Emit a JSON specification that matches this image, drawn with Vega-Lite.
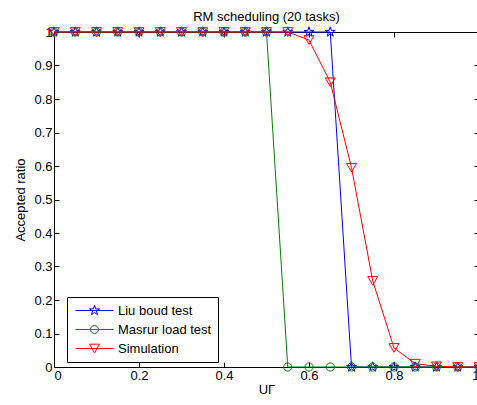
{
  "$schema": "https://vega.github.io/schema/vega-lite/v6.json",
  "width": 425,
  "height": 335,
  "autosize": "none",
  "padding": {"left": 54, "top": 32, "right": 0, "bottom": 38},
  "background": "white",
  "title": {"text": "RM scheduling (20 tasks)", "fontSize": 13, "fontWeight": "normal", "font": "Liberation Sans", "color": "black", "anchor": "middle", "offset": 1},
  "config": {
    "view": {"stroke": "black", "strokeWidth": 1},
    "axis": {"grid": false, "domain": false, "tickColor": "black", "tickSize": -5, "labelFont": "Liberation Sans", "labelFontSize": 13, "labelColor": "black", "titleFont": "Liberation Sans", "titleFontSize": 13, "titleFontWeight": "normal", "titleColor": "black"}
  },
  "data": {"values": [
    {"u": 0, "s": "Liu boud test", "r": 1},
    {"u": 0.05, "s": "Liu boud test", "r": 1},
    {"u": 0.1, "s": "Liu boud test", "r": 1},
    {"u": 0.15, "s": "Liu boud test", "r": 1},
    {"u": 0.2, "s": "Liu boud test", "r": 1},
    {"u": 0.25, "s": "Liu boud test", "r": 1},
    {"u": 0.3, "s": "Liu boud test", "r": 1},
    {"u": 0.35, "s": "Liu boud test", "r": 1},
    {"u": 0.4, "s": "Liu boud test", "r": 1},
    {"u": 0.45, "s": "Liu boud test", "r": 1},
    {"u": 0.5, "s": "Liu boud test", "r": 1},
    {"u": 0.55, "s": "Liu boud test", "r": 1},
    {"u": 0.6, "s": "Liu boud test", "r": 1},
    {"u": 0.65, "s": "Liu boud test", "r": 1},
    {"u": 0.7, "s": "Liu boud test", "r": 0},
    {"u": 0.75, "s": "Liu boud test", "r": 0},
    {"u": 0.8, "s": "Liu boud test", "r": 0},
    {"u": 0.85, "s": "Liu boud test", "r": 0},
    {"u": 0.9, "s": "Liu boud test", "r": 0},
    {"u": 0.95, "s": "Liu boud test", "r": 0},
    {"u": 1, "s": "Liu boud test", "r": 0},
    {"u": 0, "s": "Masrur load test", "r": 1},
    {"u": 0.05, "s": "Masrur load test", "r": 1},
    {"u": 0.1, "s": "Masrur load test", "r": 1},
    {"u": 0.15, "s": "Masrur load test", "r": 1},
    {"u": 0.2, "s": "Masrur load test", "r": 1},
    {"u": 0.25, "s": "Masrur load test", "r": 1},
    {"u": 0.3, "s": "Masrur load test", "r": 1},
    {"u": 0.35, "s": "Masrur load test", "r": 1},
    {"u": 0.4, "s": "Masrur load test", "r": 1},
    {"u": 0.45, "s": "Masrur load test", "r": 1},
    {"u": 0.5, "s": "Masrur load test", "r": 1},
    {"u": 0.55, "s": "Masrur load test", "r": 0},
    {"u": 0.6, "s": "Masrur load test", "r": 0},
    {"u": 0.65, "s": "Masrur load test", "r": 0},
    {"u": 0.7, "s": "Masrur load test", "r": 0},
    {"u": 0.75, "s": "Masrur load test", "r": 0},
    {"u": 0.8, "s": "Masrur load test", "r": 0},
    {"u": 0.85, "s": "Masrur load test", "r": 0},
    {"u": 0.9, "s": "Masrur load test", "r": 0},
    {"u": 0.95, "s": "Masrur load test", "r": 0},
    {"u": 1, "s": "Masrur load test", "r": 0},
    {"u": 0, "s": "Simulation", "r": 1},
    {"u": 0.05, "s": "Simulation", "r": 1},
    {"u": 0.1, "s": "Simulation", "r": 1},
    {"u": 0.15, "s": "Simulation", "r": 1},
    {"u": 0.2, "s": "Simulation", "r": 1},
    {"u": 0.25, "s": "Simulation", "r": 1},
    {"u": 0.3, "s": "Simulation", "r": 1},
    {"u": 0.35, "s": "Simulation", "r": 1},
    {"u": 0.4, "s": "Simulation", "r": 1},
    {"u": 0.45, "s": "Simulation", "r": 1},
    {"u": 0.5, "s": "Simulation", "r": 1},
    {"u": 0.55, "s": "Simulation", "r": 1},
    {"u": 0.6, "s": "Simulation", "r": 0.976},
    {"u": 0.65, "s": "Simulation", "r": 0.85},
    {"u": 0.7, "s": "Simulation", "r": 0.595},
    {"u": 0.75, "s": "Simulation", "r": 0.257},
    {"u": 0.8, "s": "Simulation", "r": 0.057},
    {"u": 0.85, "s": "Simulation", "r": 0.01},
    {"u": 0.9, "s": "Simulation", "r": 0.002},
    {"u": 0.95, "s": "Simulation", "r": 0},
    {"u": 1, "s": "Simulation", "r": 0}
  ]},
  "layer": [
    {
      "mark": {"type": "line", "strokeWidth": 1},
      "encoding": {
        "x": {"field": "u", "type": "quantitative", "scale": {"domain": [0, 1], "nice": false, "zero": false},
              "axis": {"orient": "bottom", "values": [0, 0.2, 0.4, 0.6, 0.8, 1], "format": "~g", "labelPadding": 7, "title": "UΓ", "titlePadding": 1}},
        "y": {"field": "r", "type": "quantitative", "scale": {"domain": [0, 1], "nice": false},
              "axis": {"orient": "left", "values": [0, 0.1, 0.2, 0.3, 0.4, 0.5, 0.6, 0.7, 0.8, 0.9, 1], "format": "~g", "labelPadding": 7, "title": "Accepted ratio", "titlePadding": 6}},
        "color": {"field": "s", "type": "nominal", "scale": {"domain": ["Liu boud test", "Masrur load test", "Simulation"], "range": ["#0000ff", "#008000", "#ff0000"]}, "legend": null}
      }
    },
    {
      "mark": {"type": "point", "filled": false, "strokeWidth": 1, "size": 100, "opacity": 1},
      "encoding": {
        "x": {"field": "u", "type": "quantitative", "axis": {"orient": "top", "values": [0, 0.2, 0.4, 0.6, 0.8, 1], "labels": false, "title": null}},
        "y": {"field": "r", "type": "quantitative", "axis": {"orient": "right", "values": [0, 0.1, 0.2, 0.3, 0.4, 0.5, 0.6, 0.7, 0.8, 0.9, 1], "labels": false, "title": null}},
        "color": {"field": "s", "type": "nominal", "scale": {"domain": ["Liu boud test", "Masrur load test", "Simulation"], "range": ["#0000ff", "#008000", "#ff0000"]}, "legend": null},
        "shape": {"field": "s", "type": "nominal", "scale": {"domain": ["Liu boud test", "Masrur load test", "Simulation"], "range": [
          "M0,-1.04L0.234,-0.321L0.989,-0.321L0.378,0.123L0.612,0.841L0,0.397L-0.612,0.841L-0.378,0.123L-0.989,-0.321L-0.234,-0.321Z",
          "M0.82,0A0.82,0.82 0 1,1 -0.82,0A0.82,0.82 0 1,1 0.82,0Z",
          "triangle-down"
        ]}, "legend": null}
      }
    },
    {
      "mark": {"type": "point", "filled": false, "strokeWidth": 1, "opacity": 0},
      "encoding": {
        "x": {"field": "u", "type": "quantitative", "axis": null},
        "y": {"field": "r", "type": "quantitative", "axis": null},
        "color": {"field": "s", "type": "nominal", "scale": {"domain": ["Liu boud test", "Masrur load test", "Simulation"], "range": ["#0000ff", "#008000", "#ff0000"]},
                  "legend": {"title": null, "orient": "none", "legendX": 13, "legendY": 265, "fillColor": "white", "strokeColor": "black", "padding": 6, "symbolSize": 196, "symbolOpacity": 1, "symbolStrokeWidth": 1, "labelFont": "Liberation Sans", "labelFontSize": 13, "labelColor": "black", "labelOffset": 30, "rowPadding": 4,
                             "encode": {"symbols": {"update": {"opacity": {"value": 1}}}}}},
        "shape": {"field": "s", "type": "nominal", "scale": {"domain": ["Liu boud test", "Masrur load test", "Simulation"], "range": [
          "M-0.714,0H4.714M2,-0.75L2.169,-0.232L2.713,-0.232L2.272,0.089L2.441,0.607L2,0.287L1.559,0.607L1.728,0.089L1.287,-0.232L1.831,-0.232Z",
          "M-0.714,0H4.714M2.57,0A0.57,0.57 0 1,1 1.43,0A0.57,0.57 0 1,1 2.57,0Z",
          "M-0.714,0H4.714M1.286,-0.62L2.714,-0.62L2,0.62Z"
        ]},
                  "legend": {"title": null, "orient": "none", "legendX": 13, "legendY": 265, "fillColor": "white", "strokeColor": "black", "padding": 6, "symbolSize": 196, "symbolOpacity": 1, "symbolStrokeWidth": 1, "labelFont": "Liberation Sans", "labelFontSize": 13, "labelColor": "black", "labelOffset": 30, "rowPadding": 4,
                             "encode": {"symbols": {"update": {"opacity": {"value": 1}}}}}}
      }
    }
  ],
  "resolve": {"scale": {"shape": "independent", "color": "independent"}, "axis": {"x": "independent", "y": "independent"}}
}
